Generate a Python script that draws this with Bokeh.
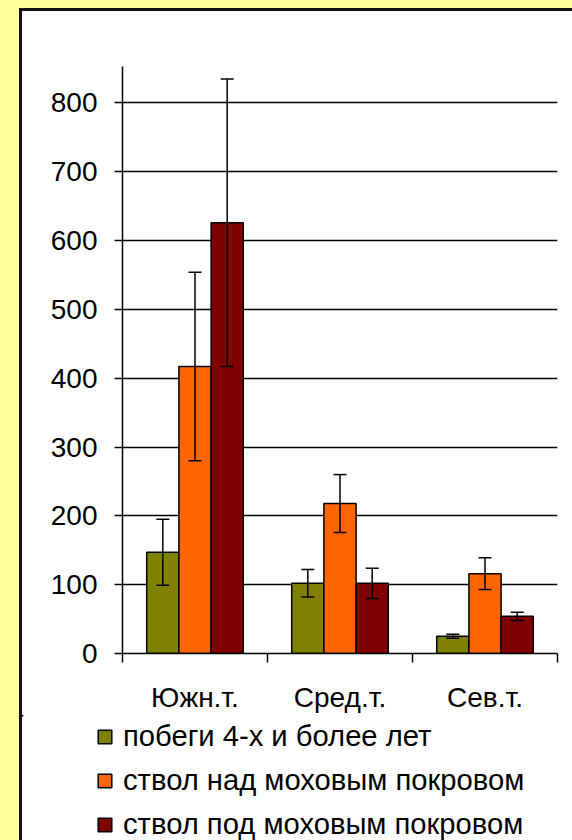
from bokeh.plotting import figure
from bokeh.layouts import column
from bokeh.models import (ColumnDataSource, FixedTicker, Whisker, TeeHead,
                          Legend, LegendItem, Range1d)
from bokeh.transform import dodge
from bokeh.embed import file_html
from bokeh.resources import INLINE

# ---- data ----
categories = ["Южн.т.", "Сред.т.", "Сев.т."]
series_names = ["побеги 4-х и более лет", "ствол над моховым покровом", "ствол под моховым покровом"]
shoots = [147, 102, 25]
shoots_err = [48, 20, 3]
above_moss = [417, 218, 116]
above_moss_err = [137, 42, 23]
below_moss = [626, 102, 54]
below_moss_err = [209, 22, 6]
y_ticks = [0, 100, 200, 300, 400, 500, 600, 700, 800]
colors = ["#808000", "#FF6600", "#800000"]

series = [shoots, above_moss, below_moss]
errors = [shoots_err, above_moss_err, below_moss_err]

x_centers = [i + 0.5 for i in range(len(categories))]
data = {"x": x_centers}
for k, (vals, errs) in enumerate(zip(series, errors)):
    data[f"v{k}"] = vals
    data[f"up{k}"] = [v + e for v, e in zip(vals, errs)]
    data[f"lo{k}"] = [v - e for v, e in zip(vals, errs)]
src = ColumnDataSource(data)

FONT = "Liberation Sans"

p = figure(width=550, height=704, output_backend="svg", toolbar_location=None,
           x_range=Range1d(0, len(categories)), y_range=Range1d(0, 853),
           min_border_left=100, min_border_right=15, min_border_top=55, min_border_bottom=61,
           border_fill_color="white", background_fill_color="white", outline_line_color=None,
           margin=(3, 0, 0, 3), frame_align=False, styles={"background-color": "white"})

p.xgrid.visible = False
p.ygrid.grid_line_color = "black"
p.ygrid.grid_line_width = 1.3

# y axis
p.yaxis.ticker = FixedTicker(ticks=y_ticks)
p.yaxis.axis_line_color = "black"
p.yaxis.axis_line_width = 1.5
p.yaxis.major_tick_line_color = "black"
p.yaxis.major_tick_line_width = 1.5
p.yaxis.major_tick_out = 8
p.yaxis.major_tick_in = 0
p.yaxis.minor_tick_line_color = None
p.yaxis.major_label_standoff = 17
p.yaxis.major_label_text_font = FONT
p.yaxis.major_label_text_font_size = "28px"
p.yaxis.major_label_text_color = "black"

# x axis: labels at centres, ticks at boundaries
p.xaxis.ticker = FixedTicker(ticks=x_centers, minor_ticks=list(range(len(categories) + 1)))
p.xaxis.major_label_overrides = {xc: c for xc, c in zip(x_centers, categories)}
p.xaxis.axis_line_color = "black"
p.xaxis.axis_line_width = 1.5
p.xaxis.major_tick_line_color = None
p.xaxis.major_tick_out = 0
p.xaxis.major_tick_in = 0
p.xaxis.minor_tick_line_color = "black"
p.xaxis.minor_tick_line_width = 1.5
p.xaxis.minor_tick_out = 9
p.xaxis.minor_tick_in = 0
p.xaxis.major_label_standoff = 19
p.xaxis.major_label_text_font = FONT
p.xaxis.major_label_text_font_size = "28px"
p.xaxis.major_label_text_color = "black"

bar_w = 0.222
for k in range(3):
    off = (k - 1) * bar_w
    p.vbar(x=dodge("x", off, range=p.x_range), top=f"v{k}", width=bar_w, source=src,
           fill_color=colors[k], line_color="black", line_width=1.5)
    w = Whisker(source=src, base=dodge("x", off, range=p.x_range), upper=f"up{k}", lower=f"lo{k}",
                line_color="black", line_width=1.5, level="annotation",
                upper_head=TeeHead(size=13, line_color="black", line_width=1.5),
                lower_head=TeeHead(size=13, line_color="black", line_width=1.5))
    p.add_layout(w)

# ---- legend in its own panel below the chart ----
# (its bars use the same data but lie far outside this panel's ranges; only legend swatches show)
pl = figure(width=550, height=125, output_backend="svg", toolbar_location=None,
            x_range=Range1d(100, 101), y_range=Range1d(-2, -1),
            x_axis_location=None, y_axis_location=None,
            min_border_left=0, min_border_right=0, min_border_top=0, min_border_bottom=0,
            border_fill_color="white", background_fill_color="white", outline_line_color=None,
            margin=(0, 0, 0, 3), frame_align=False, styles={"background-color": "white"})
pl.xgrid.visible = False
pl.ygrid.visible = False
leg_renderers = []
for k in range(3):
    r = pl.vbar(x="x", top=f"v{k}", width=bar_w, source=src,
                fill_color=colors[k], line_color="black", line_width=1.5)
    leg_renderers.append(r)
legend = Legend(items=[LegendItem(label=series_names[k], renderers=[leg_renderers[k]]) for k in range(3)],
                location=(74, -1), orientation="vertical",
                glyph_width=17, glyph_height=17, label_standoff=10, spacing=11,
                padding=0, margin=0, border_line_color=None, background_fill_alpha=0,
                label_text_font=FONT, label_text_font_size="29.2px", label_text_color="black")
pl.add_layout(legend)

# dark border strip (left/top) and yellow surround
inner = column(p, pl, styles={"background-color": "#111111"}, margin=(8, 0, 0, 19), spacing=0)
page = column(inner, styles={"background-color": "#FFFF99"})

open("out.html", "w").write(file_html(page, INLINE))
